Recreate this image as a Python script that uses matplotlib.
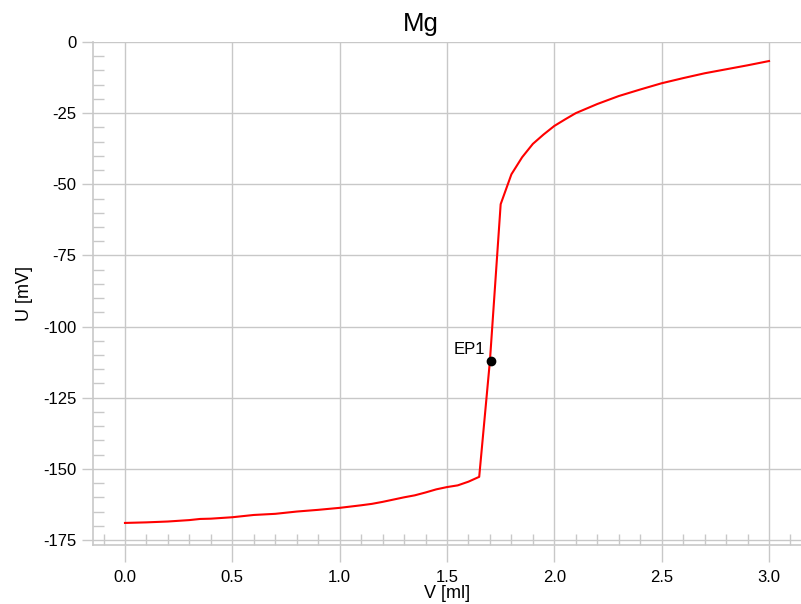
import matplotlib
matplotlib.use("Agg")
import matplotlib.pyplot as plt
from matplotlib.ticker import MultipleLocator, FormatStrFormatter

# titration curve
volume = [0.0, 0.1, 0.2, 0.3, 0.35, 0.4, 0.5, 0.6, 0.7, 0.8, 0.9, 1.0,
          1.1, 1.15, 1.2, 1.3, 1.35, 1.4, 1.45, 1.5, 1.55, 1.6, 1.65,
          1.70, 1.75, 1.8, 1.85, 1.9, 1.95, 2.0, 2.05, 2.1, 2.2, 2.3,
          2.4, 2.5, 2.6, 2.7, 2.8, 2.9, 3.0]
potential = [-169.0, -168.8, -168.5, -168.0, -167.6, -167.5, -167.0, -166.2,
             -165.8, -165.0, -164.4, -163.7, -162.8, -162.3, -161.6, -160.0,
             -159.3, -158.3, -157.2, -156.4, -155.8, -154.5, -152.8,
             -112.0, -57.0, -46.5, -40.5, -35.8, -32.5, -29.5, -27.2, -25.0,
             -21.8, -19.0, -16.7, -14.5, -12.7, -11.0, -9.6, -8.2, -6.7]
ep_volume = 1.703
ep_potential = -112.0
ep_label = "EP1"

plt.rcParams['font.family'] = ['Liberation Sans', 'DejaVu Sans']
plt.rcParams['axes.unicode_minus'] = False
grid_col = "#c8c8c8"

fig = plt.figure(figsize=(8.01, 6.04), dpi=100)
ax = fig.add_axes([0.1161, 0.0977, 0.8839, 0.8328])

ax.plot(volume, potential, color="red", lw=1.5, zorder=3)
ax.plot([ep_volume], [ep_potential], "o", color="black", ms=6, zorder=4)
ax.annotate(ep_label, (ep_volume, ep_potential), xytext=(-4, 2.5),
            textcoords="offset points", ha="right", va="bottom", fontsize=12)

ax.set_xlim(-0.149, 3.149)
ax.set_ylim(-176.75, 0)
ax.xaxis.set_major_locator(MultipleLocator(0.5))
ax.xaxis.set_minor_locator(MultipleLocator(0.1))
ax.yaxis.set_major_locator(MultipleLocator(25))
ax.yaxis.set_minor_locator(MultipleLocator(5))
ax.xaxis.set_major_formatter(FormatStrFormatter("%.1f"))

ax.grid(True, which="major", color=grid_col, lw=1)
ax.set_axisbelow(True)
for side in ["top", "right"]:
    ax.spines[side].set_visible(False)
for side in ["left", "bottom"]:
    ax.spines[side].set_color(grid_col)
    ax.spines[side].set_linewidth(1.2)

ax.tick_params(axis="both", which="major", colors=grid_col, labelcolor="black",
               labelsize=12)
ax.tick_params(axis="x", which="major", direction="out", length=12, width=1, pad=6)
ax.tick_params(axis="y", which="major", direction="out", length=8, width=1, pad=4)
ax.tick_params(axis="both", which="minor", direction="in", length=8, width=1,
               colors=grid_col)

ax.set_title("Mg", fontsize=18.5, pad=8, x=0.463)
ax.set_xlabel("V [ml]", fontsize=13, labelpad=0)
ax.set_ylabel("U [mV]", fontsize=13, labelpad=7)

fig.savefig("out.png", dpi=100)
